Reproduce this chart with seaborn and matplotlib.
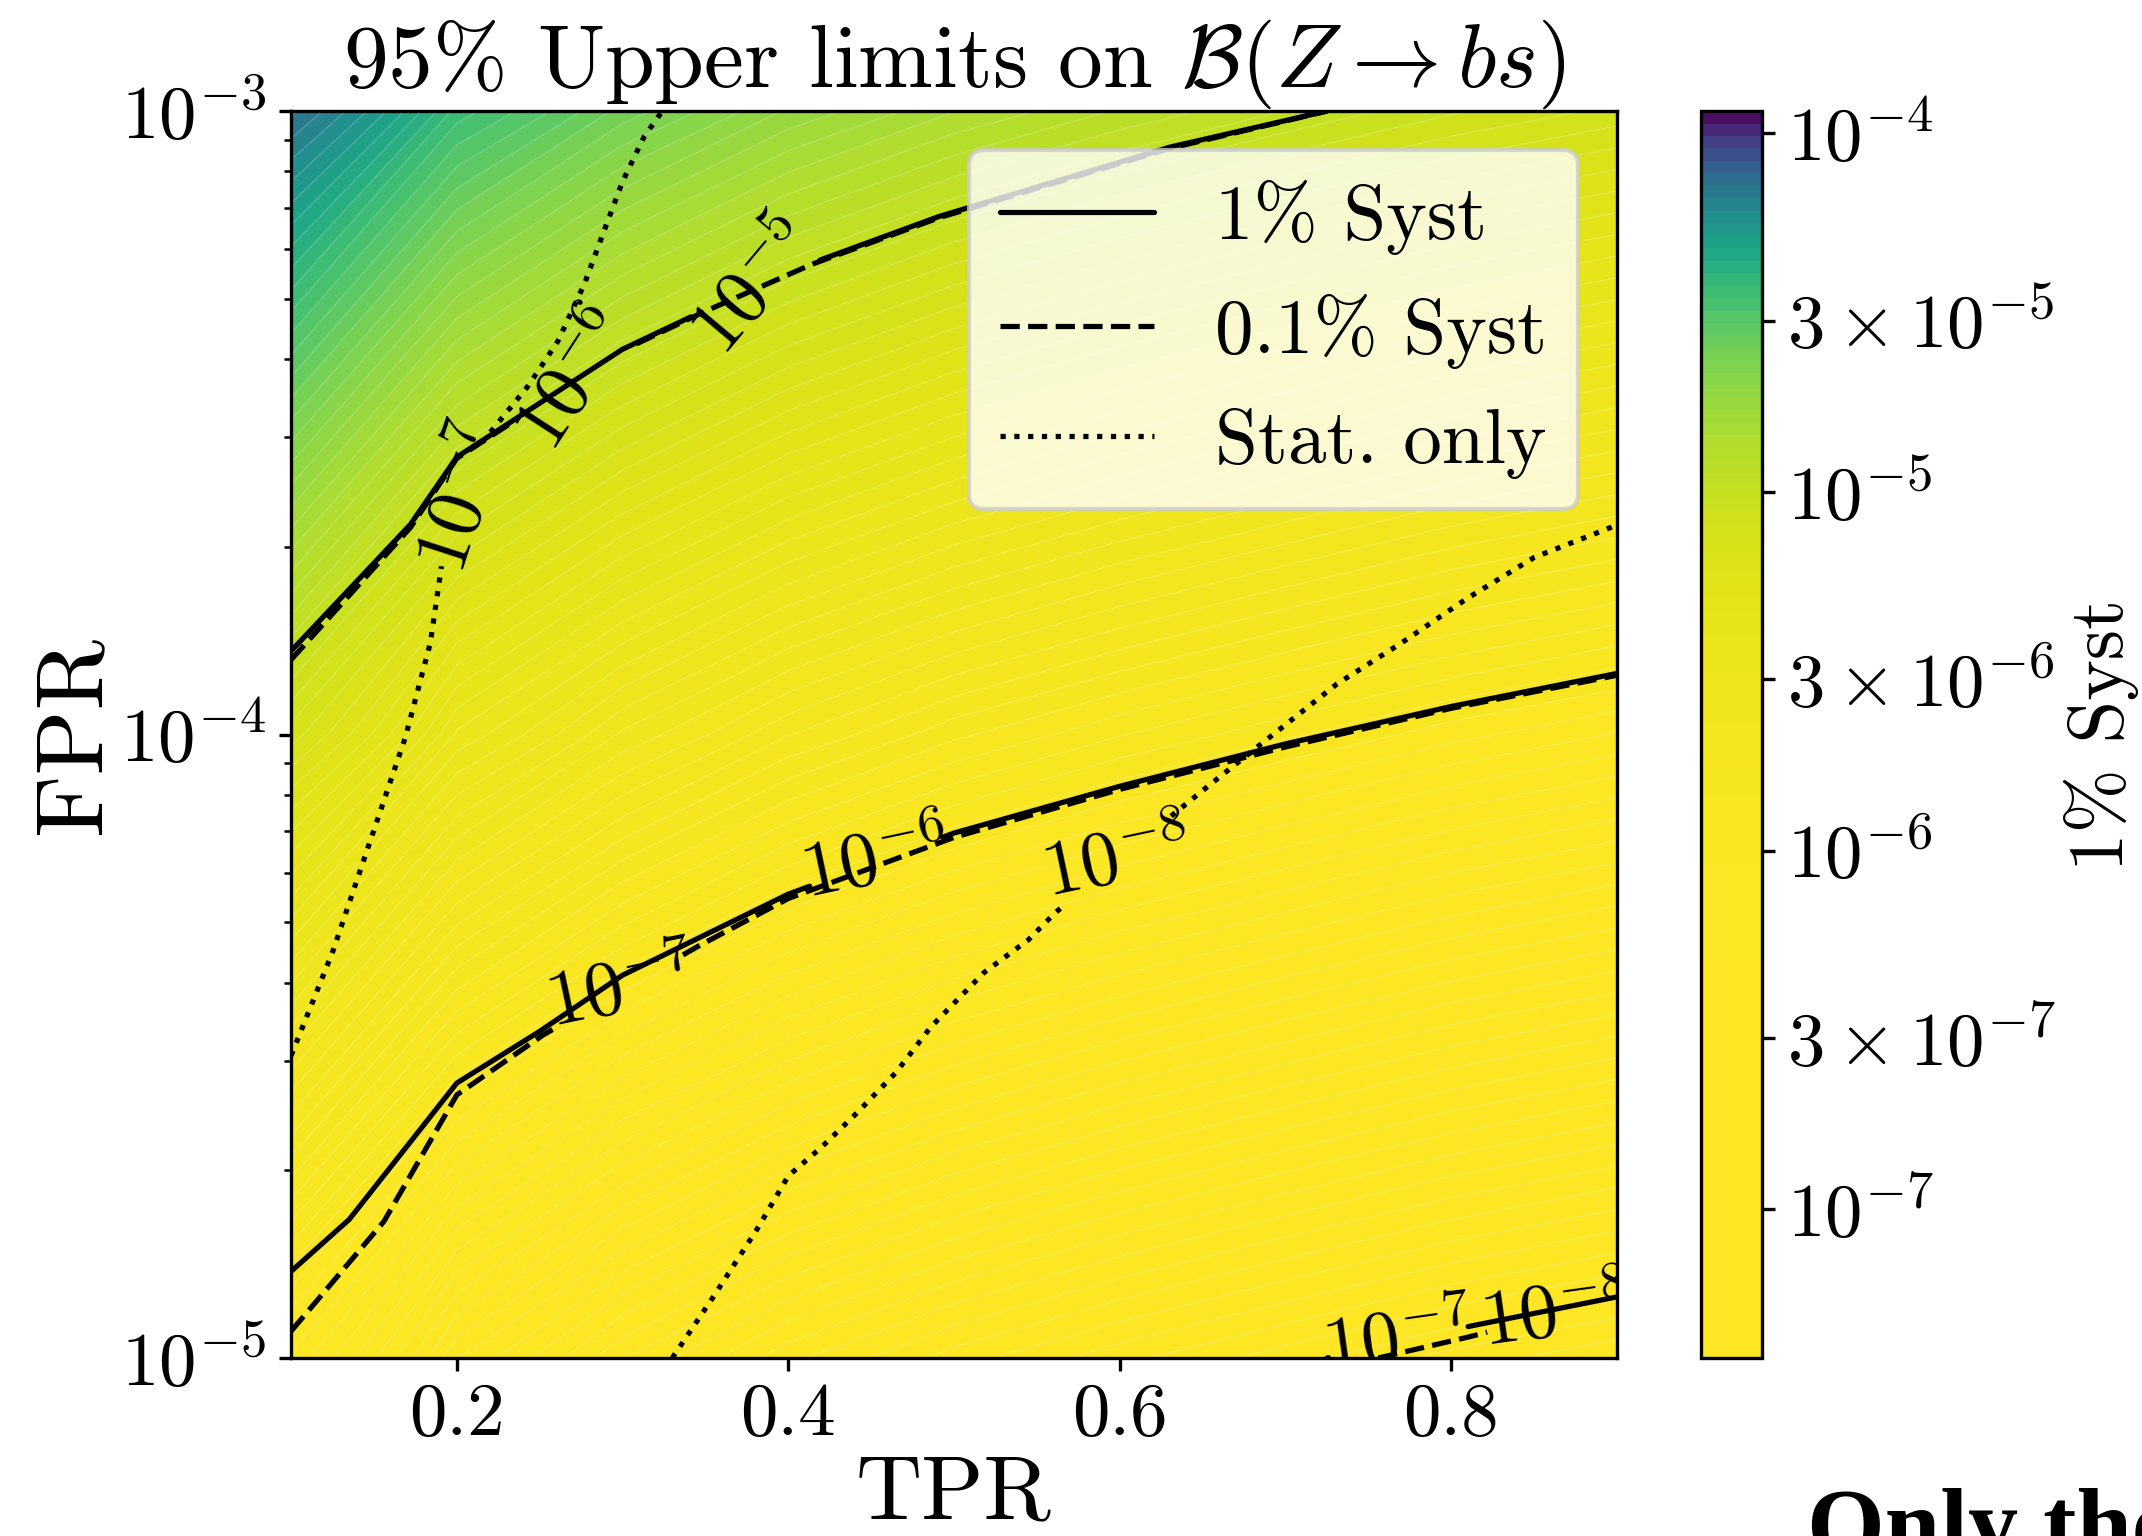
import numpy as np
import matplotlib
matplotlib.use("Agg")
import matplotlib.pyplot as plt
import seaborn as sns
from matplotlib.colors import Normalize
from matplotlib.lines import Line2D
from matplotlib.ticker import LogLocator, NullFormatter

# ---- data ----
# 1% syst upper limit on the (TPR, FPR) grid, used for the filled map
tpr_grid = [0.1, 0.2, 0.3, 0.4, 0.5, 0.6, 0.7, 0.8, 0.9]
fpr_grid = [1e-5, 1e-4, 1e-3]
limit_at_fpr_1e5 = [7.26e-7, 3.62e-7, 2.43e-7, 1.80e-7, 1.44e-7, 1.21e-7, 1.04e-7, 9.0e-8, 8.0e-8]
limit_at_fpr_1e4 = [7.26e-6, 3.62e-6, 2.43e-6, 1.80e-6, 1.44e-6, 1.21e-6, 1.04e-6, 9.0e-7, 8.0e-7]
limit_at_fpr_1e3 = [7.26e-5, 3.62e-5, 2.43e-5, 1.80e-5, 1.44e-5, 1.21e-5, 1.04e-5, 9.0e-6, 8.0e-6]
cbar_min, cbar_max = 3.85e-8, 1.15e-4
n_levels = 100

cbar_ticks = [1e-7, 3e-7, 1e-6, 3e-6, 1e-5, 3e-5, 1e-4]
cbar_ticklabels = [r"$10^{-7}$", r"$3\times10^{-7}$", r"$10^{-6}$", r"$3\times10^{-6}$",
                   r"$10^{-5}$", r"$3\times10^{-5}$", r"$10^{-4}$"]

# iso-limit lines (TPR, log10 FPR)
syst1_1e5_tpr = [0.100, 0.172, 0.200, 0.300, 0.350, 0.414, 0.491, 0.630, 0.725]
syst1_1e5_lfpr = [-3.866, -3.663, -3.555, -3.382, -3.319, -3.244, -3.169, -3.058, -3.000]
syst1_1e6_tpr = [0.100, 0.135, 0.200, 0.250, 0.300, 0.400, 0.500, 0.600, 0.700, 0.800, 0.900]
syst1_1e6_lfpr = [-4.861, -4.778, -4.559, -4.476, -4.386, -4.256, -4.158, -4.083, -4.015, -3.955, -3.902]
syst1_1e7_tpr = [0.725, 0.800, 0.900]
syst1_1e7_lfpr = [-5.000, -4.955, -4.902]

syst01_1e6_tpr = [0.100, 0.172, 0.200, 0.300, 0.350, 0.414, 0.491, 0.630, 0.725]
syst01_1e6_lfpr = [-3.880, -3.668, -3.557, -3.384, -3.321, -3.246, -3.171, -3.060, -3.000]
syst01_1e7_tpr = [0.100, 0.156, 0.200, 0.252, 0.346, 0.400, 0.500, 0.600, 0.700, 0.800, 0.900]
syst01_1e7_lfpr = [-4.957, -4.781, -4.578, -4.482, -4.339, -4.263, -4.165, -4.088, -4.020, -3.958, -3.905]
syst01_1e8_tpr = [0.756, 0.811, 0.900]
syst01_1e8_lfpr = [-5.000, -4.966, -4.905]

stat_1e7_tpr = [0.100, 0.125, 0.169, 0.184, 0.191, 0.205, 0.219, 0.243, 0.261, 0.277, 0.288, 0.300, 0.313, 0.324]
stat_1e7_lfpr = [-4.515, -4.349, -4.004, -3.853, -3.725, -3.622, -3.519, -3.441, -3.369, -3.277, -3.198, -3.113, -3.041, -3.000]
stat_1e8_tpr = [0.330, 0.355, 0.381, 0.400, 0.420, 0.441, 0.465, 0.486, 0.518, 0.545, 0.561, 0.598,
                0.636, 0.656, 0.683, 0.731, 0.770, 0.810, 0.850, 0.900]
stat_1e8_lfpr = [-5.000, -4.901, -4.794, -4.708, -4.662, -4.608, -4.542, -4.469, -4.382, -4.329, -4.286, -4.203,
                 -4.120, -4.077, -4.020, -3.919, -3.853, -3.781, -3.716, -3.664]

legend_labels = ["1% Syst", "0.1% Syst", "Stat. only"]
line_styles = ["-", "--", ":"]

# (tpr, log fpr, linestyle, label text, label position in TPR, label rotation)
contour_lines = [
    (syst1_1e5_tpr, syst1_1e5_lfpr, "-", r"$10^{-5}$", 0.380, 50),
    (syst1_1e6_tpr, syst1_1e6_lfpr, "-", r"$10^{-6}$", 0.453, 12),
    (syst1_1e7_tpr, syst1_1e7_lfpr, "-", r"$10^{-7}$", 0.768, 8),
    (syst01_1e6_tpr, syst01_1e6_lfpr, "--", r"$10^{-6}$", 0.272, 57),
    (syst01_1e7_tpr, syst01_1e7_lfpr, "--", r"$10^{-7}$", 0.299, 12),
    (syst01_1e8_tpr, syst01_1e8_lfpr, "--", r"$10^{-8}$", 0.863, 8),
    (stat_1e7_tpr, stat_1e7_lfpr, ":", r"$10^{-7}$", 0.205, 72),
    (stat_1e8_tpr, stat_1e8_lfpr, ":", r"$10^{-8}$", 0.598, 12),
]

# ---- style ----
sns.set_theme(style="ticks")
plt.rcParams.update({
    "font.family": "serif",
    "font.serif": ["cmr10"],
    "mathtext.fontset": "cm",
    "axes.unicode_minus": False,
    "axes.formatter.use_mathtext": True,
    "text.color": "black",
    "axes.labelcolor": "black",
    "axes.edgecolor": "black",
    "axes.linewidth": 0.8,
    "xtick.color": "black",
    "ytick.color": "black",
    "xtick.direction": "out",
    "ytick.direction": "out",
})

fig = plt.figure(figsize=(7.14, 5.12), dpi=300)
ax = fig.add_axes([0.1359, 0.1159, 0.6190, 0.8118])
cax = fig.add_axes([0.7941, 0.1159, 0.0285, 0.8118])

ax.set_yscale("log")
ax.set_xlim(0.1, 0.9)
ax.set_ylim(1e-5, 1e-3)

# filled map of the 1% syst limit
Z = np.array([limit_at_fpr_1e5, limit_at_fpr_1e4, limit_at_fpr_1e3])
levels = np.logspace(np.log10(cbar_min), np.log10(cbar_max), n_levels + 1)
norm = Normalize(vmin=cbar_min, vmax=cbar_max)
cs = ax.contourf(tpr_grid, fpr_grid, Z, levels=levels, cmap="viridis_r", norm=norm, zorder=1)
ax.contour(tpr_grid, fpr_grid, Z, levels=levels, colors="white", linewidths=0.3, alpha=0.22, zorder=2)

# iso-limit lines with inline labels
renderer = fig.canvas.get_renderer()
to_disp = ax.transData
to_data = ax.transData.inverted()
for tpr_vals, lfpr_vals, ls, lab, lab_tpr, lab_rot in contour_lines:
    fpr_vals = 10.0 ** np.asarray(lfpr_vals)
    disp = to_disp.transform(np.column_stack([tpr_vals, fpr_vals]))
    xd, yd = disp[:, 0], disp[:, 1]
    s = np.concatenate([[0.0], np.cumsum(np.hypot(np.diff(xd), np.diff(yd)))])

    x_lab = to_disp.transform((lab_tpr, 1e-4))[0]
    s_c = np.interp(x_lab, xd, s)
    cx, cy = np.interp(s_c, s, xd), np.interp(s_c, s, yd)
    lx, ly = to_data.transform((cx, cy))
    txt = ax.text(lx, ly, lab, fontsize=18.5, ha="center", va="center",
                  rotation_mode="anchor", clip_on=True, zorder=6)
    w = txt.get_window_extent(renderer).width
    txt.set_rotation(lab_rot)
    half = 0.5 * w * 0.95

    for a, b in [(0.0, s_c - half), (s_c + half, s[-1])]:
        a, b = max(a, 0.0), min(b, s[-1])
        if b <= a:
            continue
        ss = np.concatenate([[a], s[(s > a) & (s < b)], [b]])
        pts = to_data.transform(np.column_stack([np.interp(ss, s, xd), np.interp(ss, s, yd)]))
        sns.lineplot(x=pts[:, 0], y=pts[:, 1], ax=ax, color="black", linestyle=ls,
                     linewidth=1.25, sort=False, estimator=None, zorder=4)

ax.set_xlim(0.1, 0.9)
ax.set_ylim(1e-5, 1e-3)
ax.set_xticks([0.2, 0.4, 0.6, 0.8])
ax.set_xticklabels(["0.2", "0.4", "0.6", "0.8"])
ax.set_yticks([1e-5, 1e-4, 1e-3])
ax.set_yticklabels([r"$10^{-5}$", r"$10^{-4}$", r"$10^{-3}$"])
ax.yaxis.set_minor_locator(LogLocator(base=10, subs=np.arange(2, 10)))
ax.yaxis.set_minor_formatter(NullFormatter())
ax.tick_params(axis="both", which="major", labelsize=18, length=3, width=0.8, pad=3)
ax.tick_params(axis="y", which="minor", length=1.6, width=0.6)
for sp in ax.spines.values():
    sp.set_visible(True)
    sp.set_linewidth(0.8)

ax.set_xlabel("TPR", fontsize=22, labelpad=1)
ax.set_ylabel("FPR", fontsize=23, labelpad=0.5)
ax.set_title(r"95% Upper limits on $\mathcal{B}(Z \to bs)$", fontsize=21.5, pad=5)

handles = [Line2D([], [], color="black", linestyle=st, linewidth=1.25) for st in line_styles]
leg = ax.legend(handles, legend_labels, loc="upper right", fontsize=18.5, framealpha=0.8,
                fancybox=True, edgecolor="0.8")
leg.set_zorder(7)

cbar = fig.colorbar(cs, cax=cax)
cbar.set_ticks(cbar_ticks)
cbar.set_ticklabels(cbar_ticklabels)
cbar.ax.tick_params(labelsize=18, length=3, width=0.8, pad=3)
cbar.outline.set_linewidth(0.8)
cbar.set_label("1% Syst", fontsize=18.5, labelpad=2)

# cut-off text from the surrounding page
fig.text(0.8436, 0.031, "Only the", fontsize=24, fontweight="bold",
         family="Liberation Serif", ha="left", va="top")

fig.savefig("out.png", dpi=300)
